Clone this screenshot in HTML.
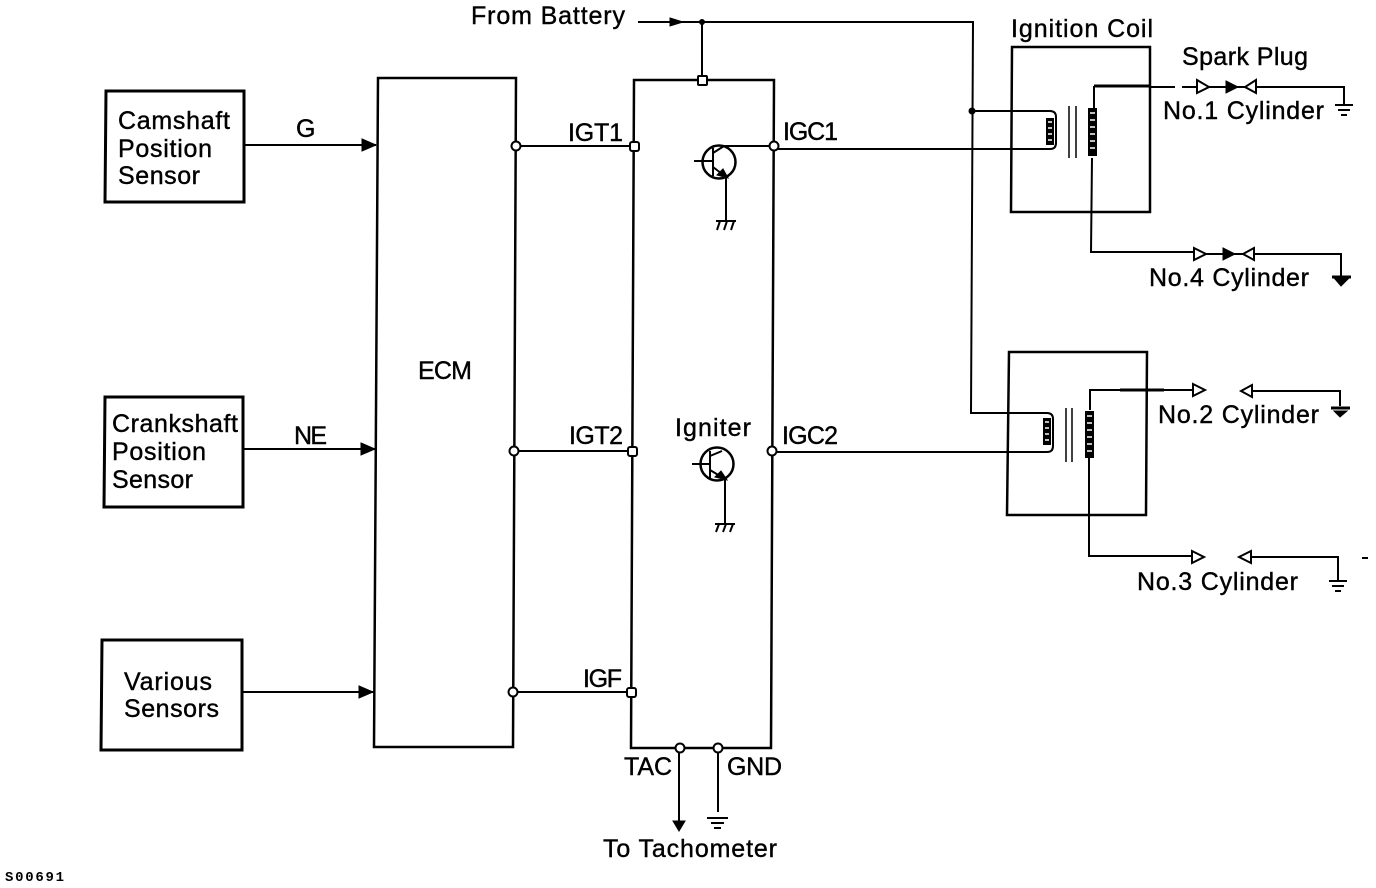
<!DOCTYPE html>
<html><head><meta charset="utf-8"><style>
html,body{margin:0;padding:0;background:#fff;width:1376px;height:888px;overflow:hidden}
svg{display:block}
text{font-family:"Liberation Sans",sans-serif;font-size:25px;fill:#000;stroke:#000;stroke-width:.4}
.l{fill:none;stroke:#000;stroke-width:2}
.t{fill:none;stroke:#000;stroke-width:3}
.o{fill:#fff;stroke:#000;stroke-width:2}
.f{fill:#000;stroke:#000;stroke-width:1}
</style></head><body>
<svg width="1376" height="888" viewBox="0 0 1376 888" xmlns="http://www.w3.org/2000/svg">
<!-- sensor boxes -->
<path class="t" d="M106 91H244V202H105Z"/>
<path class="t" d="M105 397H243V507H104Z"/>
<path class="t" d="M102 640H242V750H101Z"/>
<!-- ECM, igniter -->
<path class="l" style="stroke-width:2.5" d="M378 78H516L513 747H374Z"/>
<path class="l" style="stroke-width:2.5" d="M634 80H774L771 748H631Z"/>
<!-- coils -->
<path class="l" style="stroke-width:2.5" d="M1012 47H1150L1150 212H1011Z"/>
<path class="l" style="stroke-width:2.5" d="M1009 352H1147L1146 515H1007Z"/>
<!-- sensor to ECM -->
<path class="l" d="M244 145H376M243 449H376M242 692H374"/>
<path class="f" d="M362 139L376 145L362 151Z"/>
<path class="f" d="M361 443L375 449L361 455Z"/>
<path class="f" d="M359 686L373 692L359 698Z"/>
<!-- ECM to igniter -->
<path class="l" d="M516 146H634M514 451H632M513 692H631"/>
<!-- battery -->
<path class="l" d="M638 22H973L971 413H1047Q1053 413 1053 419V446Q1053 452 1047 452H773"/>
<path class="f" d="M670 18L683 22L670 26Z"/>
<circle cx="702" cy="22" r="3" fill="#000"/>
<path class="l" d="M702 22V80"/>
<!-- coil 1 primary -->
<path class="l" d="M972 111H1050Q1056 111 1056 117V143Q1056 149 1050 149H775"/>
<circle cx="972" cy="111" r="3.5" fill="#000"/>
<rect x="1046" y="118" width="8" height="27" fill="#000"/>
<path d="M1048 122h4M1048 128h4M1048 134h4M1048 140h4" stroke="#fff" stroke-width="1.5"/>
<path class="l" style="stroke-width:1.5" d="M1069 106V158M1076 106V158"/>
<!-- coil 1 secondary -->
<path class="t" d="M1094 86H1150"/>
<path class="l" d="M1150 87H1175M1182 87H1196M1094 86V108M1092 158L1091 252H1194"/>
<rect x="1088" y="108" width="9" height="48" fill="#000"/>
<path d="M1090 113h5M1090 120h5M1090 127h5M1090 134h5M1090 141h5M1090 148h5" stroke="#fff" stroke-width="1.5"/>
<path class="o" d="M1197 80L1209 87L1197 93Z"/>
<path class="l" d="M1209 87H1250"/>
<path class="f" d="M1226 81L1238 87L1226 93Z"/>
<path class="o" d="M1256 80L1245 87L1256 93Z"/>
<path class="l" d="M1256 87H1344V105"/>
<path class="l" d="M1335 105H1353M1338 110H1350M1341 115H1347"/>
<!-- No.4 -->
<path class="o" d="M1194 248L1206 254L1194 260Z"/>
<path class="l" d="M1206 254H1246"/>
<path class="f" d="M1223 248L1235 254L1223 260Z"/>
<path class="o" d="M1254 248L1243 254L1254 260Z"/>
<path class="l" d="M1254 254H1341V276"/>
<path class="t" d="M1332 277H1351"/>
<path class="f" d="M1335 279H1348L1341 286Z"/>
<!-- coil 2 primary parts -->
<rect x="1043" y="418" width="8" height="27" fill="#000"/>
<path d="M1045 422h4M1045 428h4M1045 434h4M1045 440h4" stroke="#fff" stroke-width="1.5"/>
<path class="l" style="stroke-width:1.5" d="M1066 408V462M1072 408V462"/>
<!-- coil 2 secondary -->
<path class="l" d="M1192 390H1090V410M1089 458V556H1192"/>
<path class="t" d="M1120 390H1164"/>
<rect x="1085" y="411" width="9" height="47" fill="#000"/>
<path d="M1087 416h5M1087 423h5M1087 430h5M1087 437h5M1087 444h5M1087 451h5" stroke="#fff" stroke-width="1.5"/>
<path class="o" d="M1193 384L1205 390L1193 396Z"/>
<path class="o" d="M1252 385L1241 391L1252 397Z"/>
<path class="l" d="M1252 391H1340V406"/>
<path class="t" d="M1331 408H1350"/>
<path class="f" d="M1334 411H1347L1340 417Z"/>
<path class="o" d="M1192 551L1204 557L1192 563Z"/>
<path class="o" d="M1251 551L1239 557L1251 563Z"/>
<path class="l" d="M1251 557H1338V580"/>
<path class="l" d="M1329 581H1347M1332 586H1344M1335 591H1341M1362 558H1368"/>
<!-- transistors -->
<path class="l" d="M713 146H774"/>
<circle cx="719" cy="162" r="16.5" fill="#fff" stroke="#000" stroke-width="2.5"/>
<path class="l" d="M694 161H713M713 148V176M713 153L724 146M713 167L726 177M726 177V220"/>
<path class="f" d="M717 175L728 178L723 169Z"/>
<path class="l" d="M716 221H736M720 221L717 230M727 221L724 230M734 221L731 230"/>
<circle cx="717" cy="464" r="16.5" fill="#fff" stroke="#000" stroke-width="2.5"/>
<path class="l" d="M692 464H710M710 451V479M710 456L722 451M710 470L725 479M725 479V523"/>
<path class="f" d="M715 477L727 480L721 471Z"/>
<path class="l" d="M715 524H735M719 524L716 532M726 524L723 532M733 524L730 532"/>
<!-- bottom -->
<path class="l" d="M679 748V822M718 748V812"/>
<path class="f" d="M673 821H685L679 831Z"/>
<path class="l" d="M707 818H728M711 823H724M714 828H721"/>
<!-- junctions -->
<circle class="o" cx="516" cy="146" r="4.5"/>
<circle class="o" cx="514" cy="451" r="4.5"/>
<circle class="o" cx="513" cy="692" r="4.5"/>
<rect class="o" x="630" y="142" width="9" height="9" rx="2"/>
<rect class="o" x="628" y="447" width="9" height="9" rx="2"/>
<rect class="o" x="627" y="688" width="9" height="9" rx="2"/>
<circle class="o" cx="774" cy="146" r="4.5"/>
<circle class="o" cx="772" cy="451" r="4.5"/>
<rect class="o" x="698" y="76" width="9" height="9" rx="1"/>
<circle class="o" cx="680" cy="748" r="4.5"/>
<circle class="o" cx="718" cy="748" r="4.5"/>
<!-- labels -->
<text x="471" y="24" textLength="154">From Battery</text>
<text x="1011" y="37" textLength="142">Ignition Coil</text>
<text x="1182" y="65" textLength="126">Spark Plug</text>
<text x="1163" y="119" textLength="161">No.1 Cylinder</text>
<text x="1149" y="286" textLength="160">No.4 Cylinder</text>
<text x="1158" y="423" textLength="161">No.2 Cylinder</text>
<text x="1137" y="590" textLength="161">No.3 Cylinder</text>
<text x="118" y="129" textLength="112">Camshaft</text>
<text x="118" y="157" textLength="94">Position</text>
<text x="118" y="184" textLength="82">Sensor</text>
<text x="296" y="137" textLength="18">G</text>
<text x="112" y="432" textLength="126">Crankshaft</text>
<text x="112" y="460" textLength="94">Position</text>
<text x="112" y="488" textLength="81">Sensor</text>
<text x="294" y="444" textLength="33">NE</text>
<text x="124" y="690" textLength="88">Various</text>
<text x="124" y="717" textLength="95">Sensors</text>
<text x="418" y="379" textLength="54">ECM</text>
<text x="568" y="141" textLength="55">IGT1</text>
<text x="783" y="140" textLength="55">IGC1</text>
<text x="569" y="444" textLength="54">IGT2</text>
<text x="782" y="444" textLength="56">IGC2</text>
<text x="675" y="436" textLength="76">Igniter</text>
<text x="583" y="687" textLength="39">IGF</text>
<text x="624" y="775" textLength="48">TAC</text>
<text x="727" y="775" textLength="55">GND</text>
<text x="603" y="857" textLength="174">To Tachometer</text>
<text x="5" y="881" textLength="59" style="font-size:14px;font-family:'Liberation Mono',monospace;font-weight:bold;stroke-width:0">S00691</text>
</svg>
</body></html>
